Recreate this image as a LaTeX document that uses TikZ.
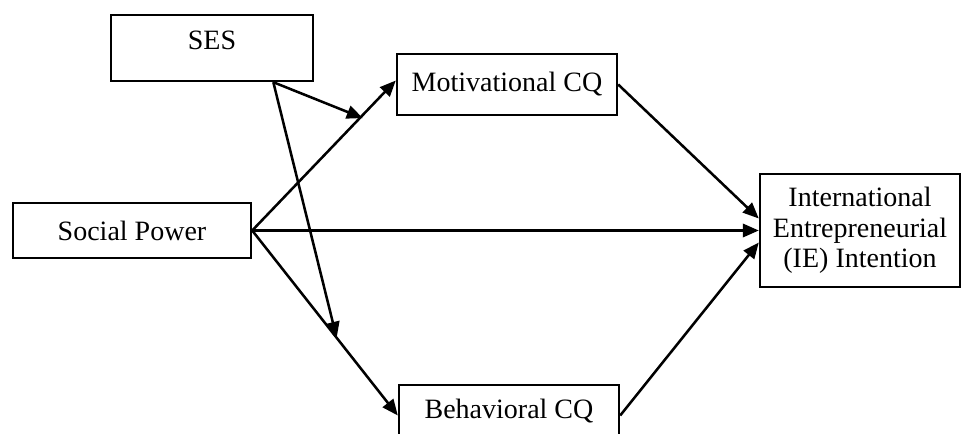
\documentclass[tikz,border=0pt]{standalone}
\usepackage{fontspec}
\setmainfont{Liberation Serif}
\usetikzlibrary{arrows.meta,calc}

\begin{document}
\begin{tikzpicture}[x=0.75pt,y=-0.75pt,
						box/.style={draw, line width=1.8pt, inner sep=0pt,
						font=\fontsize{21}{23}\selectfont, align=center},
						arr/.style={line width=1.9pt,
						-{Triangle[length=12pt,width=10pt]}}]

		\useasboundingbox (0,0) rectangle (961,434);

		\node[box, minimum width=151.5pt, minimum height=49.5pt, text depth=12pt] (ses) at (212,48) {SES};
		\node[box, minimum width=165pt, minimum height=45.75pt] (mot) at (507,84.5) {Motivational CQ};
		\node[box, minimum width=178.5pt, minimum height=41.25pt] (sp) at (132,230.5) {Social Power};
		\node[box, minimum width=165pt, minimum height=45.75pt, text depth=10pt] (beh) at (509,415.5) {Behavioral CQ};
		\node[box, minimum width=150pt, minimum height=84.75pt] (ie) at (860,230.5) {International\\Entrepreneurial\\(IE) Intention};

		\coordinate (s0) at ($(ses.south west)!0.8!(ses.south east)$);
		\coordinate (m1) at ($(sp.east)!0.77!(mot.west)$);
		\coordinate (m2) at ($(sp.east)!0.58!(beh.west)$);

		\draw[arr] (sp.east) -- ($(mot.west)+(0,-4)$);
		\draw[arr] (sp.east) -- (beh.west);
		\draw[arr] (sp.east) -- (ie.west);
		\draw[arr] (s0) -- (m1);
		\draw[arr] (s0) -- (m2);
		\draw[arr] (mot.east) -- ($(ie.west)+(0,-12)$);
		\draw[arr] (beh.east) -- ($(ie.west)+(0,12)$);

	\end{tikzpicture}
\end{document}
